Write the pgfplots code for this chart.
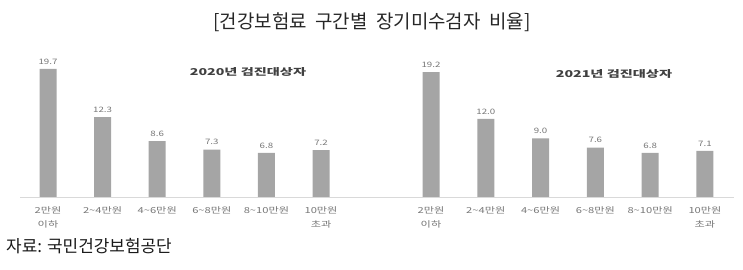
\documentclass[border=0pt]{standalone}
\usepackage{pgfplots}
\pgfplotsset{compat=1.18}
\usepackage{fontspec}
\setmainfont{Noto Sans CJK KR}
\definecolor{bargray}{HTML}{A5A5A5}
\definecolor{labgray}{HTML}{767676}
\definecolor{subgray}{HTML}{404040}
\definecolor{axgray}{HTML}{D9D9D9}
\newcommand\sx[1]{\scalebox{1.35}[1]{#1}}
\newcommand\tl{\textasciitilde}
\pgfplotsset{
  chartstyle/.style={
    scale only axis,
    height=143bp,
    ymin=0, ymax=22,
    axis x line=bottom,
    axis y line=none,
    axis line style={draw=axgray, line width=0.8pt, -},
    xtick={0,1,2,3,4,5},
    major tick length=0pt,
    /pgf/number format/assume math mode=true,
    xticklabel style={font=\fontsize{8.3}{14}\selectfont, text=labgray, align=center, anchor=north, yshift=-6bp},
    xticklabels={{\sx{2만원}\\\sx{이하}},{\sx{2\tl4만원}},{\sx{4\tl6만원}},{\sx{6\tl8만원}},{\sx{8\tl10만원}},{\sx{10만원}\\\sx{초과}}},
    ybar, bar width=17bp,
    clip=false,
    nodes near coords={\scalebox{1.3}[1]{\pgfmathprintnumber[fixed,fixed zerofill,precision=1,assume math mode=true]{\pgfplotspointmeta}}},
    nodes near coords style={font=\fontsize{7.5}{8}\selectfont, text=labgray, anchor=south, yshift=1bp},
  }
}
\begin{document}
\begin{tikzpicture}
\path[use as bounding box] (0,0) rectangle (743bp,270bp);
\begin{axis}[chartstyle, width=348bp, xmin=-0.513, xmax=5.86, at={(20bp,73bp)}, anchor=south west]
\addplot[fill=bargray, draw=none] coordinates {(0,19.7) (1,12.3) (2,8.6) (3,7.3) (4,6.8) (5,7.2)};
\end{axis}
\begin{axis}[chartstyle, width=366bp, xmin=-1.15, xmax=5.53, at={(368bp,73bp)}, anchor=south west]
\addplot[fill=bargray, draw=none] coordinates {(0,19.2) (1,12.0) (2,9.0) (3,7.6) (4,6.8) (5,7.1)};
\end{axis}
\node[font=\fontsize{19}{22}\selectfont, text=black!85] at (372bp,248bp) {[건강보험료\hspace{0.45em}구간별\hspace{0.45em}장기미수검자\hspace{0.45em}비율]};
\node[font=\fontsize{9.5}{11}\bfseries\selectfont, text=subgray] at (248bp,198bp) {\scalebox{1.5}[1]{2020년 검진대상자}};
\node[font=\fontsize{9.5}{11}\bfseries\selectfont, text=subgray] at (614bp,196bp) {\scalebox{1.5}[1]{2021년 검진대상자}};
\node[font=\fontsize{17}{19}\selectfont, text=black!90, anchor=west, inner sep=0pt] at (6bp,24bp) {자료: 국민건강보험공단};
\end{tikzpicture}
\end{document}
